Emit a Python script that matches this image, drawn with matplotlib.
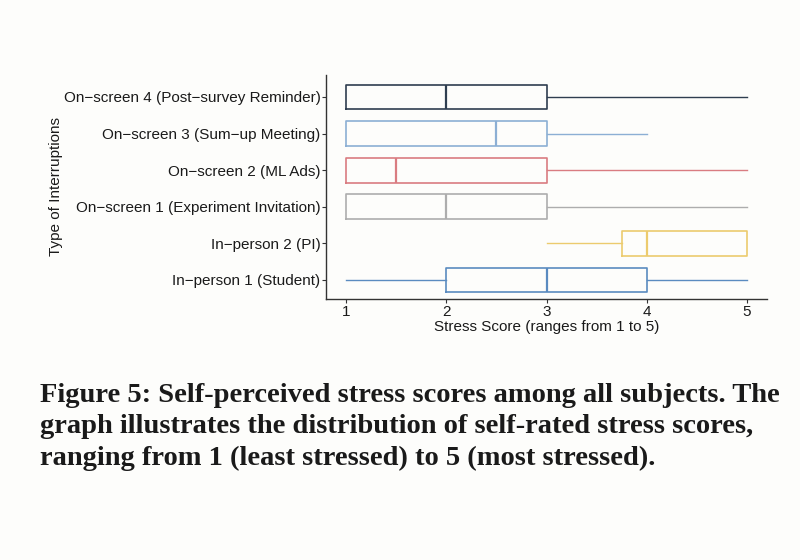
import matplotlib.pyplot as plt

# categories, bottom to top
categories = ['In\u2212person 1 (Student)',
              'In\u2212person 2 (PI)',
              'On\u2212screen 1 (Experiment Invitation)',
              'On\u2212screen 2 (ML Ads)',
              'On\u2212screen 3 (Sum\u2212up Meeting)',
              'On\u2212screen 4 (Post\u2212survey Reminder)']
whislo = [1, 3, 1, 1, 1, 1]
q1 = [2, 3.75, 1, 1, 1, 1]
med = [3, 4, 2, 1.5, 2.5, 2]
q3 = [4, 5, 3, 3, 3, 3]
whishi = [5, 5, 5, 5, 4, 5]
colors = ['#5a8bc0', '#eccb6e', '#adadad', '#d97c81', '#8cafd4', '#2f3e50']

caption_lines = ['Figure 5: Self-perceived stress scores among all subjects. The',
                 'graph illustrates the distribution of self-rated stress scores,',
                 'ranging from 1 (least stressed) to 5 (most stressed).']

plt.rcParams['font.family'] = ['Liberation Sans', 'DejaVu Sans']

fig = plt.figure(figsize=(8, 5.6), dpi=100)
fig.patch.set_facecolor('#fdfdfb')
ax = fig.add_axes([326 / 800, 1 - 299 / 560, 441 / 800, 224 / 560])
ax.set_facecolor('#fdfdfb')

stats = []
for i in range(len(categories)):
    stats.append(dict(whislo=whislo[i], q1=q1[i], med=med[i],
                      q3=q3[i], whishi=whishi[i], fliers=[]))

pos = list(range(1, len(categories) + 1))
bp = ax.bxp(stats, positions=pos, vert=False, widths=0.68,
            showcaps=False, showfliers=False, patch_artist=False)
for i, c in enumerate(colors):
    bp['boxes'][i].set(color=c, linewidth=1.2)
    bp['medians'][i].set(color=c, linewidth=1.6)
    bp['whiskers'][2 * i].set(color=c, linewidth=1.0)
    bp['whiskers'][2 * i + 1].set(color=c, linewidth=1.0)

ax.set_xlim(0.8, 5.2)
ax.set_ylim(0.48, 6.6)
ax.set_xticks([1, 2, 3, 4, 5])
ax.set_xticklabels(['1', '2', '3', '4', '5'])
ax.set_yticks(pos)
ax.set_yticklabels(categories)
ax.tick_params(axis='both', labelsize=11, colors='#333333', length=3,
               width=0.8, pad=1)
for lab in ax.get_xticklabels() + ax.get_yticklabels():
    lab.set_color('#1a1a1a')
for s in ['top', 'right']:
    ax.spines[s].set_visible(False)
for s in ['left', 'bottom']:
    ax.spines[s].set_color('#333333')
    ax.spines[s].set_linewidth(1.0)

ax.set_xlabel('Stress Score (ranges from 1 to 5)', fontsize=11, labelpad=1,
              color='#1a1a1a')
ax.set_ylabel('Type of Interruptions', fontsize=11, color='#1a1a1a')
ax.yaxis.set_label_coords(-(326 - 63) / 441, 0.5)

baselines = [402, 433, 465]
for txt, yb in zip(caption_lines, baselines):
    fig.text(40 / 800, 1 - yb / 560, txt,
             family=['Liberation Serif', 'DejaVu Serif'],
             fontweight='bold', fontsize=20.5, va='baseline', ha='left',
             color='#1a1a1a')

fig.savefig('out.png', dpi=100, facecolor=fig.get_facecolor())
